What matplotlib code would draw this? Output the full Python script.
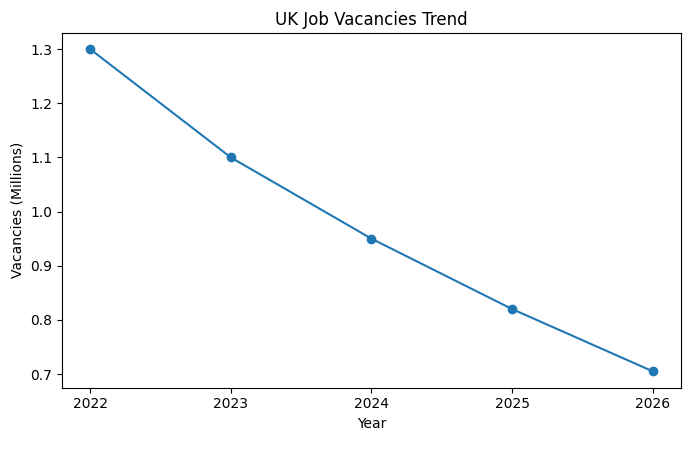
import matplotlib
matplotlib.use("Agg")
import matplotlib.pyplot as plt

years = [2022, 2023, 2024, 2025, 2026]
vacancies = [1.30, 1.10, 0.95, 0.82, 0.705]

fig = plt.figure(figsize=(6.91, 4.70), dpi=100)
ax = fig.add_axes([62/691, 1-387.5/470, (681-62)/691, (387.5-33)/470])
ax.plot(years, vacancies, marker='o')
ax.set_xticks(years)
ax.set_title("UK Job Vacancies Trend")
ax.set_xlabel("Year")
ax.set_ylabel("Vacancies (Millions)")
fig.savefig("out.png", dpi=100)
